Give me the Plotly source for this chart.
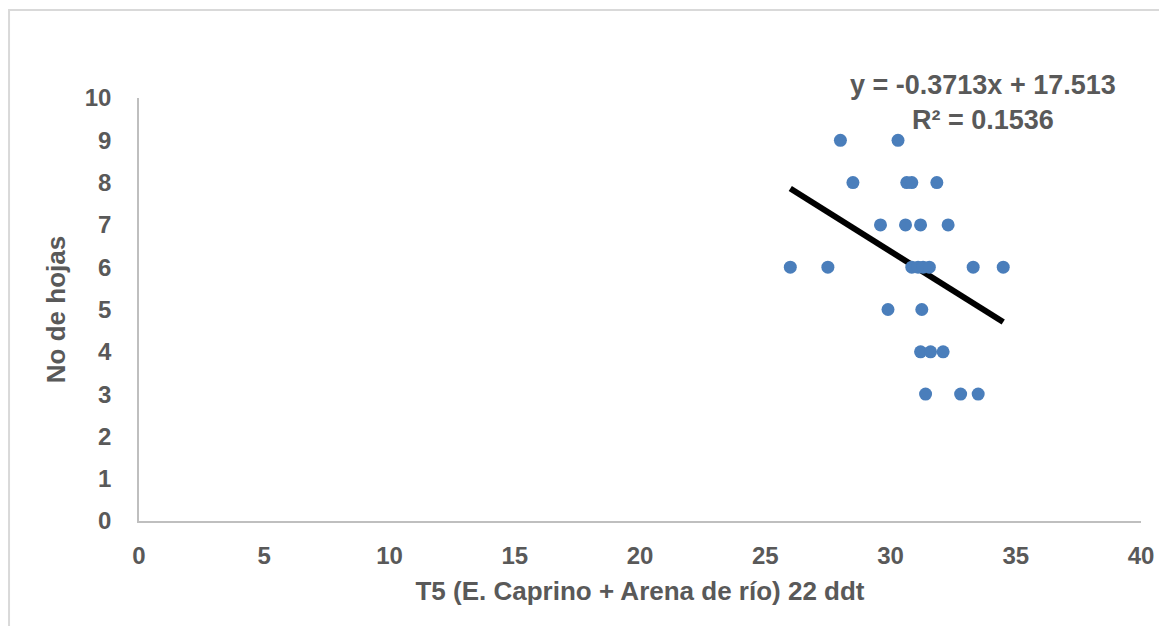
import plotly.graph_objects as go

# Data
x_vals = [28.0, 30.3,
          28.5, 30.65, 30.85, 31.85,
          29.6, 30.6, 31.2, 32.3,
          26.0, 27.5, 30.85, 31.1, 31.3, 31.55, 33.3, 34.5,
          29.9, 31.25,
          31.2, 31.6, 32.1,
          31.4, 32.8, 33.5]
y_vals = [9, 9,
          8, 8, 8, 8,
          7, 7, 7, 7,
          6, 6, 6, 6, 6, 6, 6, 6,
          5, 5,
          4, 4, 4,
          3, 3, 3]

slope = -0.3713
intercept = 17.513
r2 = 0.1536

x_ticks = [0, 5, 10, 15, 20, 25, 30, 35, 40]
y_ticks = [0, 1, 2, 3, 4, 5, 6, 7, 8, 9, 10]

trend_x = [min(x_vals), max(x_vals)]
trend_y = [slope * v + intercept for v in trend_x]

FONT = "Liberation Sans"
GREY = "#595959"

fig = go.Figure()
fig.add_trace(go.Scatter(x=trend_x, y=trend_y, mode="lines",
                         line=dict(color="black", width=6), hoverinfo="skip",
                         showlegend=False))
fig.add_trace(go.Scatter(x=x_vals, y=y_vals, mode="markers",
                         marker=dict(color="#4a7ebb", size=13, line=dict(width=0)),
                         showlegend=False))

fig.update_layout(
    width=1167, height=626,
    margin=dict(l=131, r=34, t=90, b=113),
    paper_bgcolor="white", plot_bgcolor="white",
    font=dict(family=FONT, color=GREY),
    xaxis=dict(range=[0, 40], tickvals=x_ticks, showgrid=False, zeroline=False,
               showline=True, linecolor="#bfbfbf", linewidth=1.5, ticks="",
               tickfont=dict(family=FONT, size=24, color=GREY, weight="bold"),
               ticklabelstandoff=12,
               title=dict(text="<b>T5 (E. Caprino + Arena de río) 22 ddt</b>",
                          font=dict(family=FONT, size=26, color=GREY), standoff=14)),
    yaxis=dict(range=[0, 10], tickvals=y_ticks, showgrid=False, zeroline=False,
               showline=True, linecolor="#bfbfbf", linewidth=1.5, ticks="",
               tickfont=dict(family=FONT, size=24, color=GREY, weight="bold"),
               ticklabelstandoff=21,
               title=dict(text="<b>No de hojas</b>",
                          font=dict(family=FONT, size=26, color=GREY), standoff=12)),
    shapes=[dict(type="rect", xref="paper", yref="paper",
                 x0=-0.1297, x1=1.05, y0=-0.3, y1=1.208,
                 line=dict(color="#d9d9d9", width=2), fillcolor="rgba(0,0,0,0)",
                 layer="below")],
    annotations=[dict(xref="x", yref="y", x=33.7, y=9.9,
                      text=f"<b>y = {slope}x + {intercept}<br>R² = {r2}</b>",
                      showarrow=False, xanchor="center", yanchor="middle",
                      align="center",
                      font=dict(family=FONT, size=27, color=GREY))],
)

fig.write_html("out.html")
